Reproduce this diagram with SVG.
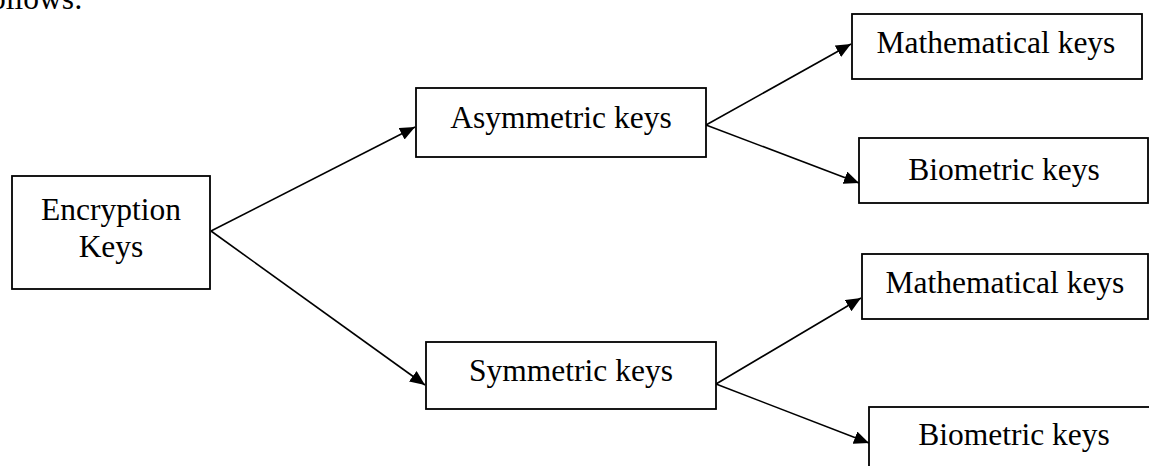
<svg xmlns="http://www.w3.org/2000/svg" width="1149" height="466" viewBox="0 0 1149 466">
  <style>
    .box { fill: #ffffff; stroke: #000000; stroke-width: 1.8; }
    .lbl { font-family: "Liberation Serif", "Times New Roman", serif; font-size: 31.5px; fill: #000000; text-anchor: middle; }
    .edge { stroke: #000000; stroke-width: 1.6; fill: none; marker-end: url(#arrow); }
  </style>
  <defs>
    <marker id="arrow" markerUnits="userSpaceOnUse" markerWidth="16" markerHeight="14" refX="15" refY="6.5" orient="auto">
      <path d="M0,0 L15,6.5 L0,13 Z" fill="#000000"/>
    </marker>
  </defs>
  <rect width="1149" height="466" fill="#ffffff"/>
  <text x="-10" y="9" font-family="Liberation Serif, serif" font-size="31.5" fill="#000000">ollows:</text>

  <g id="connectors">
    <line class="edge" x1="211" y1="231" x2="415" y2="127"/>
    <line class="edge" x1="211" y1="231" x2="425" y2="385"/>
    <line class="edge" x1="706" y1="125" x2="851" y2="44"/>
    <line class="edge" x1="706" y1="125" x2="859" y2="183"/>
    <line class="edge" x1="716" y1="384" x2="861" y2="298"/>
    <line class="edge" x1="716" y1="384" x2="869" y2="443"/>
  </g>

  <g id="node-encryption">
    <rect class="box" x="12" y="176" width="198" height="113"/>
    <text class="lbl" x="111" y="220">Encryption</text>
    <text class="lbl" x="111" y="257">Keys</text>
  </g>
  <g id="node-asymmetric">
    <rect class="box" x="416" y="88" width="290" height="69"/>
    <text class="lbl" x="561" y="128">Asymmetric keys</text>
  </g>
  <g id="node-symmetric">
    <rect class="box" x="426" y="342" width="290" height="67"/>
    <text class="lbl" x="571" y="381">Symmetric keys</text>
  </g>
  <g id="node-math-top">
    <rect class="box" x="852" y="14" width="290" height="65"/>
    <text class="lbl" x="996" y="53">Mathematical keys</text>
  </g>
  <g id="node-bio-top">
    <rect class="box" x="859" y="138" width="289" height="65"/>
    <text class="lbl" x="1004" y="180">Biometric keys</text>
  </g>
  <g id="node-math-bottom">
    <rect class="box" x="862" y="254" width="286" height="65"/>
    <text class="lbl" x="1005" y="293">Mathematical keys</text>
  </g>
  <g id="node-bio-bottom">
    <rect class="box" x="869" y="407" width="290" height="70"/>
    <text class="lbl" x="1014" y="445">Biometric keys</text>
  </g>
</svg>
